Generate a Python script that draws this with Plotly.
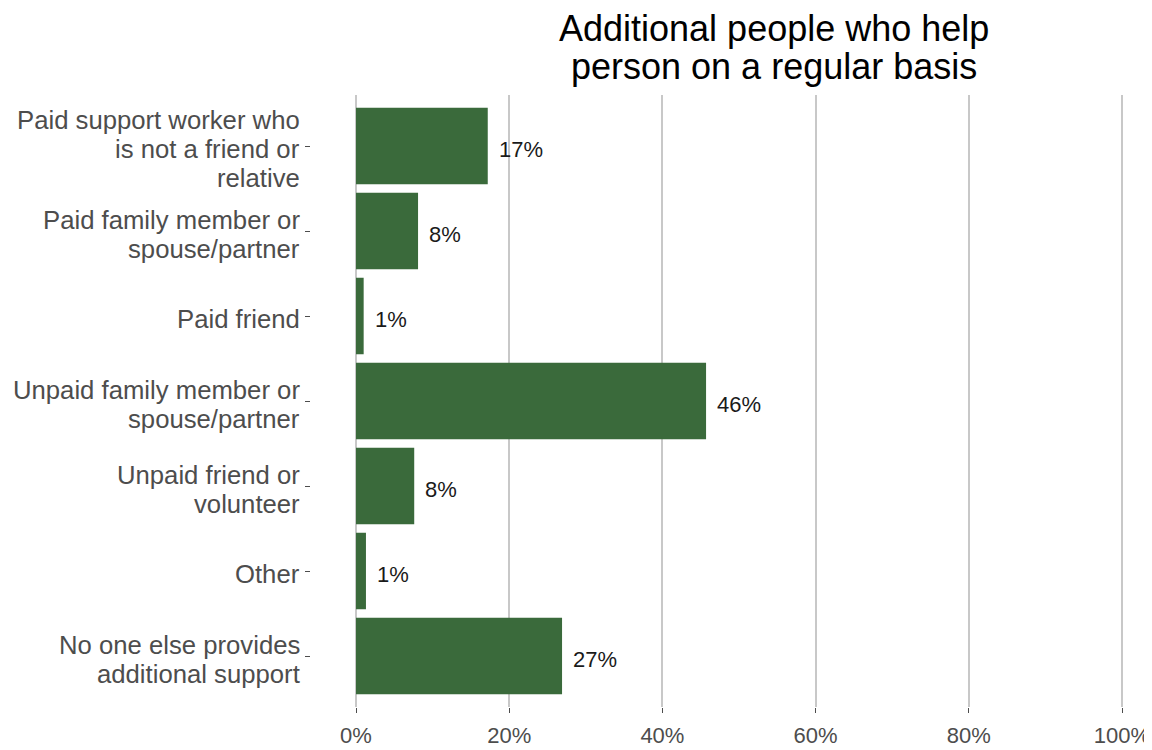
import plotly.graph_objects as go

# ---- data ----
categories = [
    "Paid support worker who<br>is not a friend or<br>relative",
    "Paid family member or<br>spouse/partner",
    "Paid friend",
    "Unpaid family member or<br>spouse/partner",
    "Unpaid friend or<br>volunteer",
    "Other",
    "No one else provides<br>additional support",
]
values = [0.172, 0.081, 0.010, 0.457, 0.076, 0.013, 0.269]
value_labels = ["17%", "8%", "1%", "46%", "8%", "1%", "27%"]
x_ticks = [0, 0.2, 0.4, 0.6, 0.8, 1.0]
x_tick_labels = ["0%", "20%", "40%", "60%", "80%", "100%"]
title_lines = ["Additional people who help", "person on a regular basis"]

FONT = "Liberation Sans, Arial, sans-serif"
BAR_COLOR = "#3A6A3B"
GREY = "#4D4D4D"

# page has an 8px body margin; figure is drawn at (8, 8)
W, H = 1144, 742
L, R, T, B = 303, 0, 87, 43
plot_w = W - L - R
plot_h = H - T - B
ZERO_PX = 45          # pixels from panel left to 0%
UNIT_PX = 766         # pixels for 0% -> 100%

fig = go.Figure()
fig.add_trace(go.Bar(
    x=values, y=categories, orientation="h",
    marker=dict(color=BAR_COLOR, line=dict(width=0)),
    width=0.9, hoverinfo="skip", showlegend=False,
))

# value labels next to bars
for v, c, lab in zip(values, categories, value_labels):
    fig.add_annotation(
        x=v, y=c, xref="x", yref="y", text=lab, showarrow=False,
        xanchor="left", yanchor="middle", xshift=9, yshift=-3,
        font=dict(family=FONT, size=22, color="#1a1a1a"),
    )

# category labels, one annotation per line for tight line spacing
LINE_GAP = 29
for c in categories:
    lines = c.split("<br>")
    n = len(lines)
    for i, ln in enumerate(lines):
        fig.add_annotation(
            x=0, y=c, xref="paper", yref="y", text=ln, showarrow=False,
            xanchor="right", yanchor="middle", xshift=-9,
            yshift=((n - 1) / 2 - i) * LINE_GAP - 3,
            font=dict(family=FONT, size=25.7, color=GREY),
        )

# title as two lines (tight line spacing)
for line, py in zip(title_lines, [21, 59]):
    fig.add_annotation(
        x=(766 - L) / plot_w, y=1 + (T - py) / plot_h,
        xref="paper", yref="paper", text=line, showarrow=False,
        xanchor="center", yanchor="middle",
        font=dict(family=FONT, size=36, color="#000000"),
    )

fig.update_layout(
    width=W, height=H,
    margin=dict(l=L, r=R, t=T, b=B, autoexpand=False),
    paper_bgcolor="white", plot_bgcolor="white",
    font=dict(family=FONT),
    bargap=0.1,
)
fig.update_xaxes(
    range=[-ZERO_PX / UNIT_PX, (plot_w - ZERO_PX) / UNIT_PX],
    tickvals=x_ticks, ticktext=x_tick_labels,
    showgrid=True, gridcolor="#C8C8C8", gridwidth=1.5,
    zeroline=False, showline=False,
    ticks="outside", ticklen=5, tickcolor=GREY, tickwidth=1.3,
    tickfont=dict(family=FONT, size=22, color=GREY),
    ticklabelstandoff=4,
    fixedrange=True,
)
fig.update_yaxes(
    type="category", categoryorder="array", categoryarray=categories,
    range=[len(categories) - 0.4, -0.6],
    showgrid=False, zeroline=False, showline=False,
    ticks="outside", ticklen=5, tickcolor=GREY, tickwidth=1.3,
    showticklabels=False,
    fixedrange=True,
)

fig.write_html("out.html")
